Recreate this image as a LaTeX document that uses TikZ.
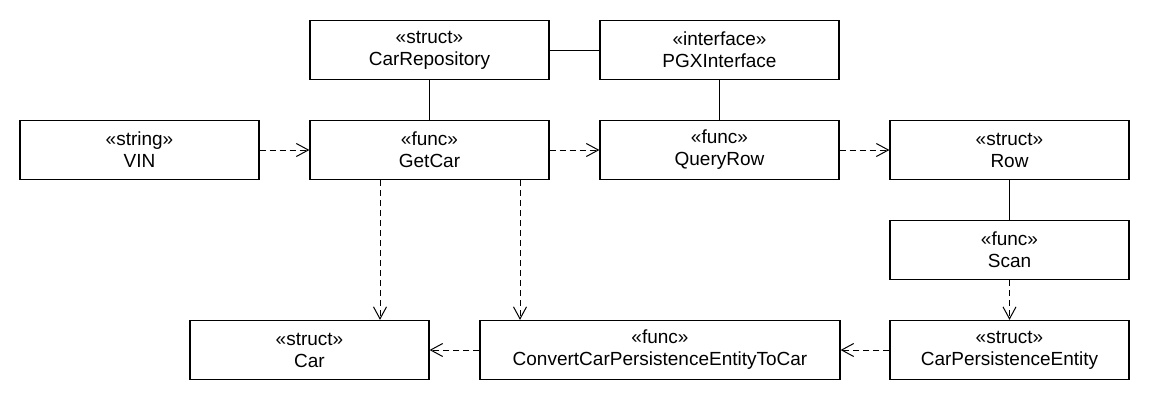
\documentclass[tikz,border=0pt]{standalone}
\usepackage{fontspec}
\setmainfont{Liberation Sans}
\usetikzlibrary{arrows.meta,calc}
\begin{document}
\begin{tikzpicture}[x=1pt,y=-1pt,
  box/.style={draw, line width=1.2pt, minimum width=239pt, minimum height=59pt, inner sep=0pt, align=center, font=\fontsize{19}{22}\selectfont},
  assoc/.style={line width=1pt},
  dep/.style={line width=1pt, dash pattern=on 6pt off 4pt, -{Straight Barb[length=12pt,width=13pt,line width=1pt]}}]
\useasboundingbox[fill=white] (0,0) rectangle (1150,400);
\node[box] (repo) at (429.5,50) {«struct»\\CarRepository};
\node[box] (pgx) at (719.5,50) {«interface»\\PGXInterface};
\node[box] (vin) at (139.5,150) {«string»\\VIN};
\node[box] (getcar) at (429.5,150) {«func»\\GetCar};
\node[box] (query) at (719.5,150) {«func»\\QueryRow};
\node[box] (row) at (1009.5,150) {«struct»\\Row};
\node[box] (scan) at (1009.5,250) {«func»\\Scan};
\node[box] (car) at (309.5,350) {«struct»\\Car};
\node[box, minimum width=360pt] (conv) at (660,350) {«func»\\ConvertCarPersistenceEntityToCar};
\node[box] (cpe) at (1009.5,350) {«struct»\\CarPersistenceEntity};

\draw[assoc] (repo) -- (pgx);
\draw[assoc] (repo) -- (getcar);
\draw[assoc] (pgx) -- (query);
\draw[assoc] (row) -- (scan);

\draw[dep] (vin) -- (getcar);
\draw[dep] (getcar) -- (query);
\draw[dep] (query) -- (row);
\draw[dep] ([xshift=-49.5pt]getcar.south) -- ([xshift=70.5pt]car.north);
\draw[dep] ([xshift=90.5pt]getcar.south) -- ([xshift=-140pt]conv.north);
\draw[dep] (scan) -- (cpe);
\draw[dep] (cpe) -- (conv);
\draw[dep] (conv) -- (car);
\end{tikzpicture}
\end{document}
